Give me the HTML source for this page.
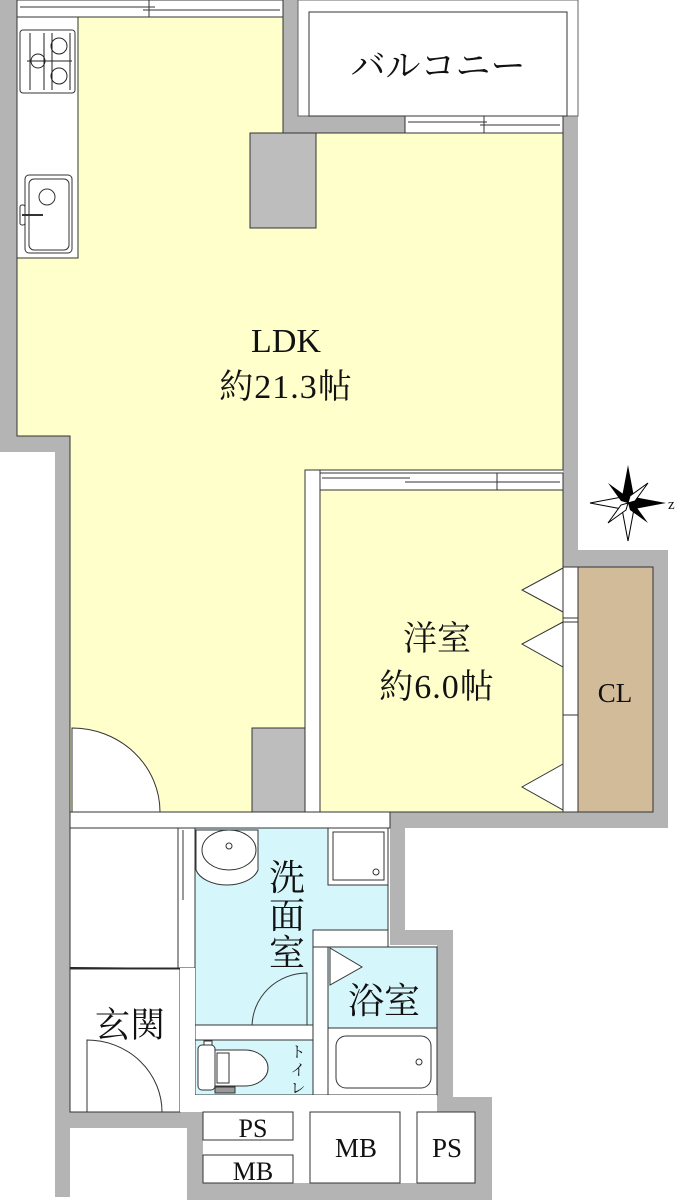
<!DOCTYPE html>
<html><head><meta charset="utf-8"><style>
html,body{margin:0;padding:0;background:#fff;width:690px;height:1200px;overflow:hidden}
text{font-family:"Liberation Serif","Noto Serif CJK SC",serif;fill:#111}
</style></head><body>
<svg width="690" height="1200" viewBox="0 0 690 1200" xmlns="http://www.w3.org/2000/svg">
<g fill="#b4b4b4" stroke="none">
<rect x="0" y="0" width="17" height="452"/>
<rect x="17" y="436" width="53" height="16"/>
<rect x="55" y="450" width="15" height="747"/>
<rect x="283" y="0" width="15" height="133"/>
<rect x="283" y="116" width="295" height="17"/>
<rect x="563" y="116" width="15" height="451"/>
<rect x="563" y="550" width="105" height="17"/>
<rect x="653" y="550" width="15" height="278"/>
<rect x="390" y="812" width="278" height="16"/>
<rect x="390" y="812" width="15" height="133"/>
<rect x="405" y="930" width="48" height="15"/>
<rect x="437" y="930" width="16" height="167"/>
<rect x="437" y="1097" width="55" height="16"/>
<rect x="475" y="1097" width="17" height="103"/>
<rect x="187" y="1183" width="305" height="17"/>
<rect x="187" y="1112" width="16" height="88"/>
<rect x="70" y="1112" width="133" height="16"/>
</g>
<!-- windows top -->
<rect x="17" y="0" width="266" height="17" fill="#fff" stroke="#333" stroke-width="1"/>
<line x1="20" y1="7" x2="155" y2="7" stroke="#333"/><line x1="143" y1="10" x2="280" y2="10" stroke="#333"/><line x1="149" y1="0" x2="149" y2="17" stroke="#333"/>
<!-- balcony -->
<rect x="298" y="0" width="280" height="116" fill="#fff" stroke="#666"/>
<rect x="309" y="12" width="258" height="104" fill="#fff" stroke="#333"/>
<text x="438" y="78" font-size="35" text-anchor="middle">バルコニー</text>
<rect x="405" y="116" width="158" height="17" fill="#fff" stroke="#333"/>
<line x1="408" y1="122" x2="487" y2="122" stroke="#333"/><line x1="480" y1="125" x2="560" y2="125" stroke="#333"/><line x1="484" y1="116" x2="484" y2="133" stroke="#333"/>
<!-- LDK -->
<polygon points="17,17 283,17 283,133 563,133 563,470 305,470 305,812 70,812 70,436 17,436" fill="#ffffcc" stroke="#333"/>
<rect x="17" y="17" width="61" height="241" fill="#fff" stroke="#333"/>
<rect x="20" y="30" width="55" height="63" rx="3" fill="#fff" stroke="#333"/>
<g fill="none" stroke="#222" stroke-width="1">
<line x1="30" y1="33" x2="30" y2="90"/><line x1="44" y1="33" x2="44" y2="90"/><line x1="52" y1="33" x2="52" y2="90"/><line x1="70" y1="33" x2="70" y2="90"/>
<line x1="27" y1="61" x2="72" y2="61"/>
<circle cx="38" cy="61" r="7"/><circle cx="59" cy="46" r="8"/><circle cx="59" cy="76" r="8"/>
</g>
<rect x="25" y="175" width="47" height="78" rx="4" fill="#fff" stroke="#333"/>
<rect x="29" y="179" width="40" height="71" rx="5" fill="none" stroke="#333"/>
<circle cx="47" cy="197" r="8" fill="none" stroke="#333"/>
<rect x="20" y="205" width="5" height="20" rx="2" fill="#fff" stroke="#333"/>
<line x1="22" y1="215" x2="43" y2="215" stroke="#333" stroke-width="2"/>
<rect x="250" y="133" width="66" height="95" fill="#bdbdbd" stroke="#333"/>
<rect x="252" y="728" width="53" height="84" fill="#bdbdbd" stroke="#333"/>
<path d="M72,812 L72,728 A88,84 0 0 1 160,812" fill="#fff" stroke="#333"/>
<text x="286" y="352" font-size="34" text-anchor="middle">LDK</text>
<text x="286" y="398" font-size="34" text-anchor="middle" letter-spacing="1">約21.3帖</text>
<!-- Western room -->
<rect x="305" y="470" width="15" height="342" fill="#fff" stroke="#333"/>
<rect x="320" y="473" width="243" height="17" fill="#fff" stroke="#333"/>
<line x1="322" y1="478" x2="410" y2="478" stroke="#333"/><line x1="405" y1="482" x2="560" y2="482" stroke="#333"/><line x1="497" y1="473" x2="497" y2="490" stroke="#333"/>
<rect x="320" y="490" width="243" height="322" fill="#ffffcc" stroke="#333"/>
<text x="437" y="650" font-size="34" text-anchor="middle">洋室</text>
<text x="437" y="698" font-size="34" text-anchor="middle" letter-spacing="1">約6.0帖</text>
<rect x="563" y="567" width="15" height="245" fill="#fff" stroke="#333"/>
<line x1="563" y1="618" x2="578" y2="618" stroke="#333"/><line x1="563" y1="622" x2="578" y2="622" stroke="#333"/><line x1="563" y1="715" x2="578" y2="715" stroke="#333"/>
<rect x="578" y="567" width="75" height="245" fill="#d2bb99" stroke="#333"/>
<text x="615" y="702" font-size="27" text-anchor="middle">CL</text>
<g fill="#fff" stroke="#333">
<polygon points="563,568 522,590 563,612"/><polygon points="563,622 522,644 563,667"/><polygon points="563,764 522,787 563,810"/>
</g>
<!-- compass -->
<g transform="translate(628,503)">
<polygon points="0,-38 6,-6 0,0 -6,-6" fill="#000"/><polygon points="0,38 6,6 0,0 -6,6" fill="#fff" stroke="#000"/>
<polygon points="-38,0 -6,-6 0,0 -6,6" fill="#fff" stroke="#000"/><polygon points="38,0 6,-6 0,0 6,6" fill="#000"/>
<polygon points="-20,-20 -2,-7 0,0 -7,-2" fill="#000"/><polygon points="20,20 2,7 0,0 7,2" fill="#000"/>
<polygon points="20,-20 7,-2 0,0 2,-7" fill="#fff" stroke="#000"/><polygon points="-20,20 -7,2 0,0 -2,7" fill="#fff" stroke="#000"/>
<text x="40" y="6" font-size="15" font-family="Liberation Sans">z</text>
</g>
<!-- lower interior -->
<rect x="70" y="812" width="320" height="16" fill="#fff" stroke="#333"/>
<rect x="70" y="828" width="108" height="140" fill="#fff" stroke="#333"/>
<rect x="178" y="828" width="17" height="140" fill="#fff" stroke="#333"/>
<line x1="183" y1="830" x2="183" y2="900" stroke="#333"/>
<line x1="70" y1="968" x2="195" y2="969" stroke="#222" stroke-width="2"/>
<rect x="70" y="969" width="110" height="143" fill="#fff" stroke="#333"/>
<path d="M87,1112 L87,1040 A75,72 0 0 1 162,1112" fill="none" stroke="#333"/>
<text x="130" y="1037" font-size="35" text-anchor="middle">玄関</text>
<polygon points="195,828 388,828 388,930 313,930 313,1025 195,1025" fill="#d5f7fb" stroke="#333"/>
<path d="M196,830 L258,830 L258,870 A32,20 0 0 1 196,870Z" fill="#fff" stroke="#333"/>
<ellipse cx="229" cy="850" rx="27" ry="20" fill="#fff" stroke="#333"/>
<circle cx="229" cy="846" r="3" fill="none" stroke="#333"/>
<rect x="328" y="828" width="60" height="57" fill="#fff" stroke="#333"/>
<rect x="333" y="832" width="51" height="48" fill="#fff" stroke="#333"/>
<circle cx="376" cy="872" r="3" fill="none" stroke="#333"/>
<text x="287" y="890" font-size="36" text-anchor="middle">洗</text>
<text x="287" y="928" font-size="36" text-anchor="middle">面</text>
<text x="287" y="965" font-size="36" text-anchor="middle">室</text>
<path d="M307,1025 L307,973 A55,54 0 0 0 252,1027" fill="none" stroke="#333"/>
<rect x="195" y="1025" width="118" height="15" fill="#fff" stroke="#333"/>
<rect x="313" y="930" width="75" height="17" fill="#fff" stroke="#333"/>
<rect x="313" y="947" width="15" height="148" fill="#fff" stroke="#333"/>
<rect x="328" y="947" width="109" height="81" fill="#d5f7fb" stroke="#333"/>
<polygon points="330,948 362,967 330,985" fill="#fff" stroke="#333"/>
<text x="384" y="1013" font-size="36" text-anchor="middle">浴室</text>
<rect x="328" y="1028" width="109" height="67" fill="#fff" stroke="#333"/>
<rect x="336" y="1036" width="95" height="52" rx="10" fill="#fff" stroke="#333"/>
<circle cx="419" cy="1062" r="3" fill="none" stroke="#333"/>
<rect x="195" y="1040" width="118" height="55" fill="#d5f7fb" stroke="#333"/>
<rect x="198" y="1045" width="17" height="45" rx="4" fill="#fff" stroke="#333"/>
<rect x="204" y="1041" width="8" height="4" fill="#fff" stroke="#333"/>
<path d="M215,1050 L245,1050 A23,18 0 0 1 245,1086 L215,1086Z" fill="#fff" stroke="#333"/>
<rect x="217" y="1053" width="12" height="30" fill="none" stroke="#333"/>
<rect x="215" y="1087" width="20" height="6" fill="#999" stroke="#333"/>
<text x="298" y="1057" font-size="15" text-anchor="middle">ト</text>
<text x="298" y="1075" font-size="15" text-anchor="middle">イ</text>
<text x="298" y="1093" font-size="15" text-anchor="middle">レ</text>
<rect x="195" y="1095" width="242" height="17" fill="#fff"/>
<rect x="180" y="968" width="15" height="144" fill="#fff"/>
<!-- PS/MB -->
<rect x="203" y="1112" width="234" height="71" fill="#fff"/>
<rect x="203" y="1112" width="90" height="28" fill="#fff" stroke="#333"/>
<rect x="203" y="1155" width="90" height="28" fill="#fff" stroke="#333"/>
<rect x="310" y="1112" width="90" height="71" fill="#fff" stroke="#333"/>
<rect x="417" y="1112" width="58" height="71" fill="#fff" stroke="#333"/>
<text x="253" y="1137" font-size="26" text-anchor="middle">PS</text>
<text x="253" y="1180" font-size="26" text-anchor="middle">MB</text>
<text x="356" y="1157" font-size="27" text-anchor="middle">MB</text>
<text x="447" y="1157" font-size="27" text-anchor="middle">PS</text>
</svg>
</body></html>
